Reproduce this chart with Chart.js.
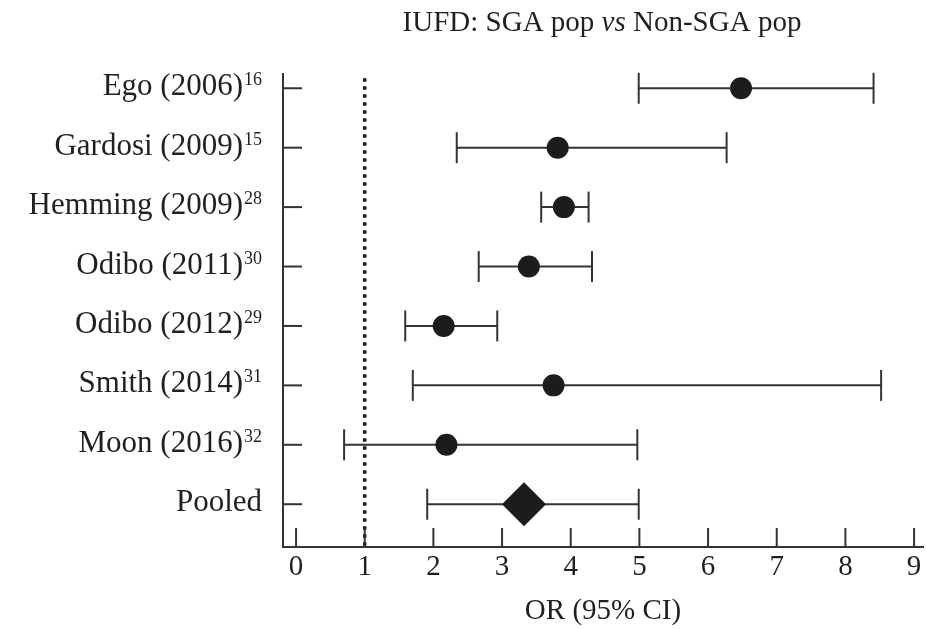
<!DOCTYPE html>
<html>
<head>
<meta charset="utf-8">
<script src="https://cdn.jsdelivr.net/npm/chart.js@4.4.1/dist/chart.umd.min.js"></script>
<style>
  html, body { margin: 0; padding: 0; background: #ffffff; overflow: hidden; }
  #c { display: block; }
</style>
</head>
<body>
<canvas id="c" width="926" height="629" style="width:926px;height:629px"></canvas>
<script>
// ---- data ----
const studies = ['Ego (2006)', 'Gardosi (2009)', 'Hemming (2009)', 'Odibo (2011)', 'Odibo (2012)', 'Smith (2014)', 'Moon (2016)', 'Pooled'];
const refs = ['16', '15', '28', '30', '29', '31', '32', ''];
const orValues = [6.48, 3.81, 3.90, 3.39, 2.15, 3.75, 2.19, 3.32];
const ciLower = [4.99, 2.34, 3.57, 2.66, 1.59, 1.70, 0.70, 1.91];
const ciUpper = [8.41, 6.27, 4.26, 4.31, 2.93, 8.52, 4.97, 4.99];
const xTicks = [0, 1, 2, 3, 4, 5, 6, 7, 8, 9];
const nullValue = 1;
const titleParts = [['IUFD: SGA pop ', false], ['vs', true], [' Non-SGA pop', false]];
const xTitle = 'OR (95% CI)';

// ---- style ----
const FONT = '"Liberation Serif", "Times New Roman", serif';
const TEXT = '#231f20';
const LINE = '#333333';
const MARK = '#1e1b1c';
const X_MIN = -0.19, X_MAX = 9.13;
const Y_MIN = -0.24, Y_MAX = 7.72;
const NULL_TOP = -0.17;

const pooledIdx = studies.length - 1;

const ciSets = studies.map((s, i) => ({
  label: s + ' CI',
  data: [{ x: ciLower[i], y: i }, { x: ciUpper[i], y: i }],
  showLine: true,
  borderColor: LINE,
  borderWidth: 2,
  pointStyle: 'line',
  pointRotation: 90,
  pointRadius: 15.5,
  pointBorderColor: LINE,
  pointBorderWidth: 2,
  order: 2,
  clip: false
}));

const studyPoints = {
  label: 'OR',
  data: studies.slice(0, pooledIdx).map((s, i) => ({ x: orValues[i], y: i })),
  pointStyle: 'circle',
  pointRadius: 11,
  pointBackgroundColor: MARK,
  pointBorderColor: MARK,
  pointBorderWidth: 0,
  order: 0,
  clip: false
};

const pooledPoint = {
  label: 'Pooled OR',
  data: [{ x: orValues[pooledIdx], y: pooledIdx }],
  pointStyle: 'rectRot',
  pointRadius: 22,
  pointBackgroundColor: MARK,
  pointBorderColor: MARK,
  pointBorderWidth: 0,
  order: 0,
  clip: false
};

const nullLine = {
  label: 'null',
  data: [{ x: nullValue, y: NULL_TOP }, { x: nullValue, y: Y_MAX }],
  showLine: true,
  borderColor: '#1a1a1a',
  borderWidth: 3.5,
  borderDash: [3.5, 4.5],
  borderCapStyle: 'butt',
  pointRadius: 0,
  order: 3
};

const deco = {
  id: 'deco',
  afterDraw(chart) {
    const { ctx, chartArea: a, scales: { x, y } } = chart;
    ctx.save();
    // inward tick marks
    ctx.strokeStyle = LINE;
    ctx.lineWidth = 2;
    xTicks.forEach(v => {
      const px = x.getPixelForValue(v);
      ctx.beginPath();
      ctx.moveTo(px, a.bottom);
      ctx.lineTo(px, a.bottom - 19);
      ctx.stroke();
    });
    studies.forEach((s, i) => {
      const py = y.getPixelForValue(i);
      ctx.beginPath();
      ctx.moveTo(a.left, py);
      ctx.lineTo(a.left + 19, py);
      ctx.stroke();
    });
    // category labels with superscript references
    ctx.fillStyle = TEXT;
    ctx.textBaseline = 'alphabetic';
    ctx.textAlign = 'right';
    studies.forEach((s, i) => {
      const py = y.getPixelForValue(i);
      const right = a.left - 21;
      let sw = 0;
      if (refs[i]) {
        ctx.font = '18px ' + FONT;
        sw = ctx.measureText(refs[i]).width;
        ctx.fillText(refs[i], right, py - 3);
      }
      ctx.font = '31px ' + FONT;
      ctx.fillText(s, right - sw - (refs[i] ? 1 : 0), py + 7);
    });
    // title with italic "vs"
    const fontFor = it => (it ? 'italic ' : '') + '29px ' + FONT;
    let total = 0;
    titleParts.forEach(([t, it]) => { ctx.font = fontFor(it); total += ctx.measureText(t).width; });
    let tx = 602 - total / 2;
    ctx.textAlign = 'left';
    titleParts.forEach(([t, it]) => {
      ctx.font = fontFor(it);
      ctx.fillText(t, tx, 31);
      tx += ctx.measureText(t).width;
    });
    ctx.restore();
  }
};

new Chart(document.getElementById('c'), {
  type: 'scatter',
  data: { datasets: [...ciSets, studyPoints, pooledPoint, nullLine] },
  options: {
    responsive: false,
    maintainAspectRatio: false,
    devicePixelRatio: 1,
    animation: false,
    events: [],
    layout: { autoPadding: false, padding: { top: 74, right: 3, bottom: 0, left: 0 } },
    plugins: { legend: { display: false }, tooltip: { enabled: false } },
    scales: {
      x: {
        type: 'linear',
        min: X_MIN,
        max: X_MAX,
        afterBuildTicks: s => { s.ticks = xTicks.map(v => ({ value: v })); },
        afterFit: s => { s.height = 82; s.paddingLeft = 0; s.paddingRight = 0; },
        grid: { display: true, drawOnChartArea: false, drawTicks: false },
        border: { display: true, color: LINE, width: 2 },
        ticks: {
          font: { family: FONT, size: 29 },
          color: TEXT,
          padding: 3,
          maxRotation: 0,
          autoSkip: false
        },
        title: {
          display: true,
          text: xTitle,
          font: { family: FONT, size: 29 },
          color: TEXT,
          padding: { top: 0, bottom: 0 }
        }
      },
      y: {
        type: 'linear',
        reverse: true,
        min: Y_MIN,
        max: Y_MAX,
        afterBuildTicks: s => { s.ticks = studies.map((t, i) => ({ value: i })); },
        afterFit: s => { s.width = 283; s.paddingTop = 0; s.paddingBottom = 0; },
        grid: { display: true, drawOnChartArea: false, drawTicks: false },
        border: { display: true, color: LINE, width: 2 },
        ticks: { display: false }
      }
    }
  },
  plugins: [deco]
});
</script>
</body>
</html>
